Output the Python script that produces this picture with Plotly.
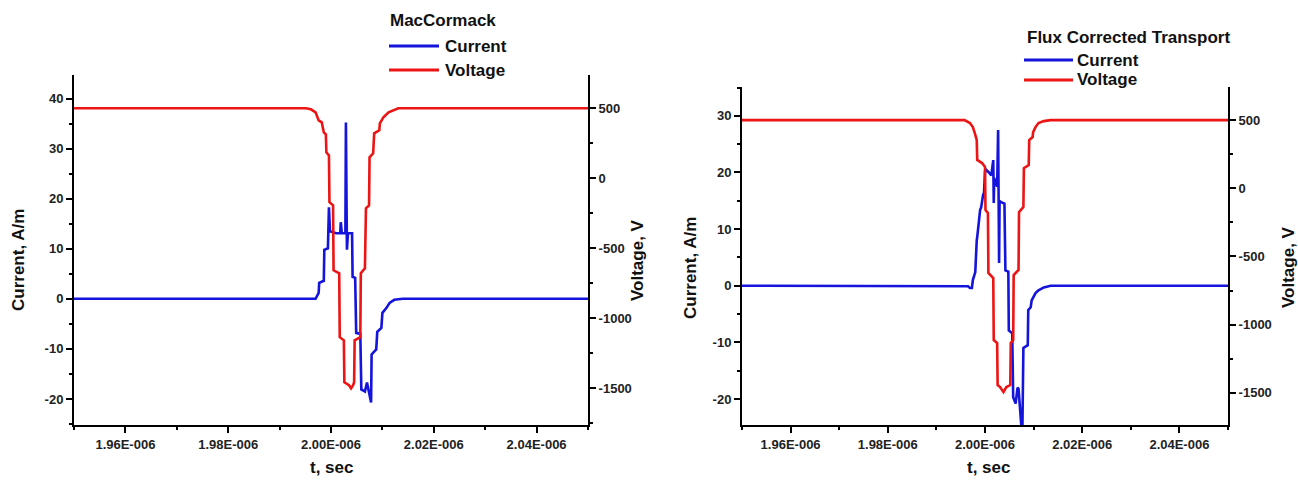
import plotly.graph_objects as go

# ---------------- data (time in microseconds) ----------------
# MacCormack (left panel)
mc_t_current = [1.9500, 1.9947, 1.9970, 1.9976, 1.9977, 1.9986, 1.9987, 1.9994, 1.9996, 1.9998,
                2.0010, 2.0018, 2.0019, 2.0021, 2.0028, 2.0029, 2.0031, 2.0033, 2.0041, 2.0042,
                2.0047, 2.0049, 2.0057, 2.0059, 2.0066, 2.0070, 2.0074, 2.0078, 2.0079, 2.0088,
                2.0090, 2.0098, 2.0100, 2.0108, 2.0114, 2.0123, 2.0140, 2.0500]
mc_current = [0.0, 0.0, 0.0, 1.2, 3.2, 3.6, 9.8, 10.1, 18.3, 13.5,
              13.1, 13.1, 15.3, 13.1, 13.1, 35.2, 9.8, 13.1, 13.1, 4.4,
              4.2, -6.8, -7.0, -18.1, -18.5, -16.7, -18.5, -20.7, -11.1, -10.1,
              -6.6, -5.8, -2.8, -1.8, -0.8, -0.2, 0.0, 0.0]

mc_t_voltage = [1.9500, 1.9951, 1.9961, 1.9970, 1.9976, 1.9982, 1.9986, 1.9990, 1.9991, 1.9996,
                1.9997, 2.0004, 2.0005, 2.0016, 2.0017, 2.0025, 2.0026, 2.0035, 2.0039, 2.0043,
                2.0045, 2.0046, 2.0057, 2.0058, 2.0066, 2.0068, 2.0074, 2.0075, 2.0082, 2.0084,
                2.0094, 2.0095, 2.0102, 2.0112, 2.0131, 2.0500]
mc_voltage = [500, 500, 493, 471, 414, 400, 328, 314, 186, 164,
              -171, -193, -657, -678, -1135, -1157, -1457, -1478, -1500, -1478,
              -1457, -1157, -1135, -678, -643, -214, -193, 150, 179, 321,
              343, 393, 436, 471, 500, 500]

# Flux Corrected Transport (right panel)
fct_t_current = [1.9500, 1.9958, 1.9965, 1.9969, 1.9973, 1.9975, 1.9979, 1.9980, 1.9983, 1.9984,
                 1.9990, 1.9992, 1.9996, 1.9998, 2.0000, 2.0002, 2.0008, 2.0013, 2.0017, 2.0018,
                 2.0019, 2.0021, 2.0025, 2.0027, 2.0029, 2.0030, 2.0032, 2.0040, 2.0042, 2.0048,
                 2.0049, 2.0056, 2.0058, 2.0063, 2.0067, 2.0069, 2.0075, 2.0077, 2.0079, 2.0088,
                 2.0089, 2.0094, 2.0096, 2.0104, 2.0110, 2.0121, 2.0135, 2.0500]
fct_current = [0.0, 0.0, -0.1, -0.4, -0.4, 1.0, 2.2, 2.4, 8.0, 8.6,
               13.4, 13.8, 16.0, 16.4, 20.2, 20.5, 20.0, 19.5, 22.2, 14.6,
               19.0, 18.5, 17.5, 27.5, 4.0, 15.0, 14.8, 14.5, 2.7, 2.5,
               -7.9, -8.4, -19.7, -20.8, -18.0, -18.2, -25.0, -25.0, -11.0, -10.5,
               -4.3, -3.8, -2.6, -1.3, -0.8, -0.3, 0.0, 0.0]

fct_t_voltage = [1.9500, 1.9958, 1.9969, 1.9975, 1.9979, 1.9983, 1.9984, 1.9994, 2.0000, 2.0001,
                 2.0006, 2.0007, 2.0017, 2.0018, 2.0025, 2.0026, 2.0031, 2.0038, 2.0044, 2.0052,
                 2.0053, 2.0058, 2.0059, 2.0069, 2.0070, 2.0079, 2.0080, 2.0090, 2.0091, 2.0098,
                 2.0099, 2.0104, 2.0110, 2.0121, 2.0135, 2.0500]
fct_voltage = [500, 500, 479, 449, 405, 354, 208, 185, 156, -159,
               -181, -621, -658, -1113, -1135, -1443, -1458, -1495, -1458, -1443,
               -1135, -1113, -636, -599, -174, -137, 148, 170, 354, 376,
               412, 449, 479, 493, 500, 500]

x_tickvals = [1.96, 1.98, 2.00, 2.02, 2.04]
x_ticktext = ["1.96E-006", "1.98E-006", "2.00E-006", "2.02E-006", "2.04E-006"]
cur_ticks_mc = [-20, -10, 0, 10, 20, 30, 40]
cur_ticks_fct = [-20, -10, 0, 10, 20, 30]
volt_ticks = [-1500, -1000, -500, 0, 500]

BLUE = "#1414dc"
RED = "#ec1414"
FONT = "Liberation Sans, Arial, sans-serif"
W, H = 1298, 480

def px(x):
    return x / W

def py(y):
    return 1 - y / H

def labels(vals):
    return [str(v) for v in vals]  # ASCII hyphen-minus, as in the original

fig = go.Figure()
fig.add_trace(go.Scatter(x=mc_t_current, y=mc_current, mode="lines", line=dict(color=BLUE, width=2.6),
                         xaxis="x", yaxis="y", showlegend=False, name="Current"))
fig.add_trace(go.Scatter(x=mc_t_voltage, y=mc_voltage, mode="lines", line=dict(color=RED, width=2.6),
                         xaxis="x", yaxis="y2", showlegend=False, name="Voltage"))
fig.add_trace(go.Scatter(x=fct_t_voltage, y=fct_voltage, mode="lines", line=dict(color=RED, width=2.6),
                         xaxis="x2", yaxis="y4", showlegend=False, name="Voltage"))
fig.add_trace(go.Scatter(x=fct_t_current, y=fct_current, mode="lines", line=dict(color=BLUE, width=2.6),
                         xaxis="x2", yaxis="y3", showlegend=False, name="Current"))

tickfont = dict(family=FONT, size=13, color="#222222", weight="bold")
axis_common = dict(showgrid=False, zeroline=False, showline=True, linecolor="black", linewidth=2,
                   ticks="outside", ticklen=6, tickwidth=2, tickcolor="black", tickfont=tickfont,
                   fixedrange=True)

L_x0, L_x1, L_top, L_bot = 74, 588, 75, 425
R_x0, R_x1, R_top, R_bot = 742, 1228, 87, 425

fig.update_layout(
    width=W, height=H, margin=dict(l=0, r=0, t=0, b=0),
    paper_bgcolor="white", plot_bgcolor="white", showlegend=False,
    xaxis=dict(domain=[px(L_x0), px(L_x1)], anchor="y", range=[1.95, 2.05],
               tickvals=x_tickvals, ticktext=x_ticktext,
               minor=dict(dtick=0.01, tick0=1.95, ticks="outside", ticklen=3, tickwidth=2, tickcolor="black"),
               **axis_common),
    yaxis=dict(domain=[py(L_bot), py(L_top)], anchor="x", range=[-25.2, 44.7],
               tickvals=cur_ticks_mc, ticktext=labels(cur_ticks_mc),
               minor=dict(dtick=5, tick0=0, ticks="outside", ticklen=3, tickwidth=2, tickcolor="black"),
               **axis_common),
    yaxis2=dict(overlaying="y", side="right", anchor="x", range=[-1762, 738],
                tickvals=volt_ticks, ticktext=labels(volt_ticks),
                minor=dict(dtick=250, tick0=0, ticks="outside", ticklen=3, tickwidth=2, tickcolor="black"),
                **axis_common),
    xaxis2=dict(domain=[px(R_x0), px(R_x1)], anchor="y3", range=[1.95, 2.05],
                tickvals=x_tickvals, ticktext=x_ticktext,
                minor=dict(dtick=0.01, tick0=1.95, ticks="outside", ticklen=3, tickwidth=2, tickcolor="black"),
                **axis_common),
    yaxis3=dict(domain=[py(R_bot), py(R_top)], anchor="x2", range=[-24.6, 35.1],
                tickvals=cur_ticks_fct, ticktext=labels(cur_ticks_fct),
                minor=dict(dtick=5, tick0=0, ticks="outside", ticklen=3, tickwidth=2, tickcolor="black"),
                **axis_common),
    yaxis4=dict(overlaying="y3", side="right", anchor="x2", range=[-1736, 743],
                tickvals=volt_ticks, ticktext=labels(volt_ticks),
                minor=dict(dtick=250, tick0=0, ticks="outside", ticklen=3, tickwidth=2, tickcolor="black"),
                **axis_common),
)

title_font = dict(family=FONT, size=17, color="#111111", weight="bold")
leg_font = dict(family=FONT, size=17, color="#111111", weight="bold")

annotations = [
    # axis titles
    dict(text="Current, A/m", x=px(18), y=py(260), textangle=-90, font=title_font),
    dict(text="Voltage, V", x=px(637), y=py(260), textangle=-90, font=title_font),
    dict(text="t, sec", x=px(331), y=py(467), font=title_font),
    dict(text="Current, A/m", x=px(690), y=py(268), textangle=-90, font=title_font),
    dict(text="Voltage, V", x=px(1288), y=py(267), textangle=-90, font=title_font),
    dict(text="t, sec", x=px(988), y=py(467), font=title_font),
    # legend texts
    dict(text="MacCormack", x=px(388), y=py(21), xanchor="left", font=leg_font),
    dict(text="Current", x=px(443), y=py(46), xanchor="left", font=leg_font),
    dict(text="Voltage", x=px(443), y=py(70), xanchor="left", font=leg_font),
    dict(text="Flux Corrected Transport", x=px(1025), y=py(37), xanchor="left", font=leg_font),
    dict(text="Current", x=px(1075), y=py(60), xanchor="left", font=leg_font),
    dict(text="Voltage", x=px(1075), y=py(80), xanchor="left", font=leg_font),
]
for a in annotations:
    a.setdefault("xanchor", "center")
    a.update(xref="paper", yref="paper", yanchor="middle", showarrow=False)
fig.update_layout(annotations=annotations)

shapes = [
    dict(x0=px(389), x1=px(439), y0=py(46), y1=py(46), line=dict(color=BLUE, width=3)),
    dict(x0=px(389), x1=px(439), y0=py(70), y1=py(70), line=dict(color=RED, width=3)),
    dict(x0=px(1024), x1=px(1073), y0=py(60), y1=py(60), line=dict(color=BLUE, width=3)),
    dict(x0=px(1024), x1=px(1073), y0=py(80), y1=py(80), line=dict(color=RED, width=3)),
]
for s in shapes:
    s.update(type="line", xref="paper", yref="paper")
fig.update_layout(shapes=shapes)

fig.write_html("out.html")
